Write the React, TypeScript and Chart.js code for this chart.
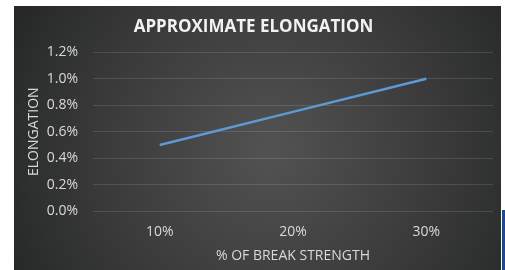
import React, { useEffect, useRef } from "react";
import { Chart, registerables } from "chart.js";

Chart.register(...registerables);

const categories = ["10%", "20%", "30%"];
const elongation = [0.5, 0.75, 1.0];
const yTicks = [0, 0.2, 0.4, 0.6, 0.8, 1.0, 1.2];

const FONT = "'Open Sans', 'Liberation Sans', sans-serif";

const bgPlugin = {
  id: "bgPanel",
  beforeDraw(chart: any) {
    const ctx = chart.ctx;
    const w = chart.width;
    const h = chart.height;
    ctx.save();
    ctx.fillStyle = "#ffffff";
    ctx.fillRect(0, 0, w, h);
    const px = 14, py = 6, pw = 501 - 14, ph = h - 6;
    const g = ctx.createRadialGradient(270, 150, 10, 270, 150, 300);
    g.addColorStop(0, "#515151");
    g.addColorStop(0.55, "#3a3a3a");
    g.addColorStop(1, "#242626");
    ctx.fillStyle = g;
    ctx.fillRect(px, py, pw, ph);
    ctx.fillStyle = "#1f4a8a";
    ctx.fillRect(502, 210, 3, h - 210);
    ctx.restore();
  },
};

export default function App() {
  const ref = useRef<HTMLCanvasElement>(null);
  useEffect(() => {
    if (!ref.current) return;
    const chart = new Chart(ref.current, {
      type: "line",
      data: {
        labels: categories,
        datasets: [
          {
            data: elongation,
            borderColor: "#5b9bd5",
            borderWidth: 2.5,
            pointRadius: 0,
            fill: false,
            tension: 0,
          },
        ],
      },
      options: {
        animation: false,
        responsive: false,
        layout: { padding: { left: 14, top: 6, right: 12, bottom: 0 } },
        plugins: {
          legend: { display: false },
          tooltip: { enabled: false },
          title: {
            display: true,
            text: "APPROXIMATE ELONGATION",
            color: "#f2f2f2",
            font: { family: FONT, size: 17, weight: "bold" },
            padding: { top: 11, bottom: 15 },
          },
        },
        scales: {
          x: {
            offset: true,
            grid: { display: false, drawTicks: false },
            border: { display: false },
            ticks: {
              color: "#d9d9d9",
              font: { family: FONT, size: 14 },
              padding: 13,
            },
            title: {
              display: true,
              text: "% OF BREAK STRENGTH",
              color: "#d9d9d9",
              font: { family: FONT, size: 14 },
              padding: { top: 5, bottom: 6 },
            },
            afterFit(scale: any) {
              scale.height = 59;
            },
          },
          y: {
            min: 0,
            max: 1.2,
            afterBuildTicks(scale: any) {
              scale.ticks = yTicks.map((v) => ({ value: v }));
            },
            grid: { color: "rgba(255,255,255,0.12)", lineWidth: 1, drawTicks: false },
            border: { display: false },
            ticks: {
              color: "#d9d9d9",
              font: { family: FONT, size: 14 },
              padding: 15,
              callback: (v: any) => Number(v).toFixed(1) + "%",
            },
            title: {
              display: true,
              text: "ELONGATION",
              color: "#d9d9d9",
              font: { family: FONT, size: 14 },
              padding: { top: 12, bottom: 0 },
            },
            afterFit(scale: any) {
              scale.width = 79;
            },
          },
        },
      },
      plugins: [bgPlugin],
    });
    return () => chart.destroy();
  }, []);
  return (
    <canvas
      ref={ref}
      width={505}
      height={270}
      style={{ position: "fixed", left: 0, top: 0, width: 505, height: 270 }}
    />
  );
}
